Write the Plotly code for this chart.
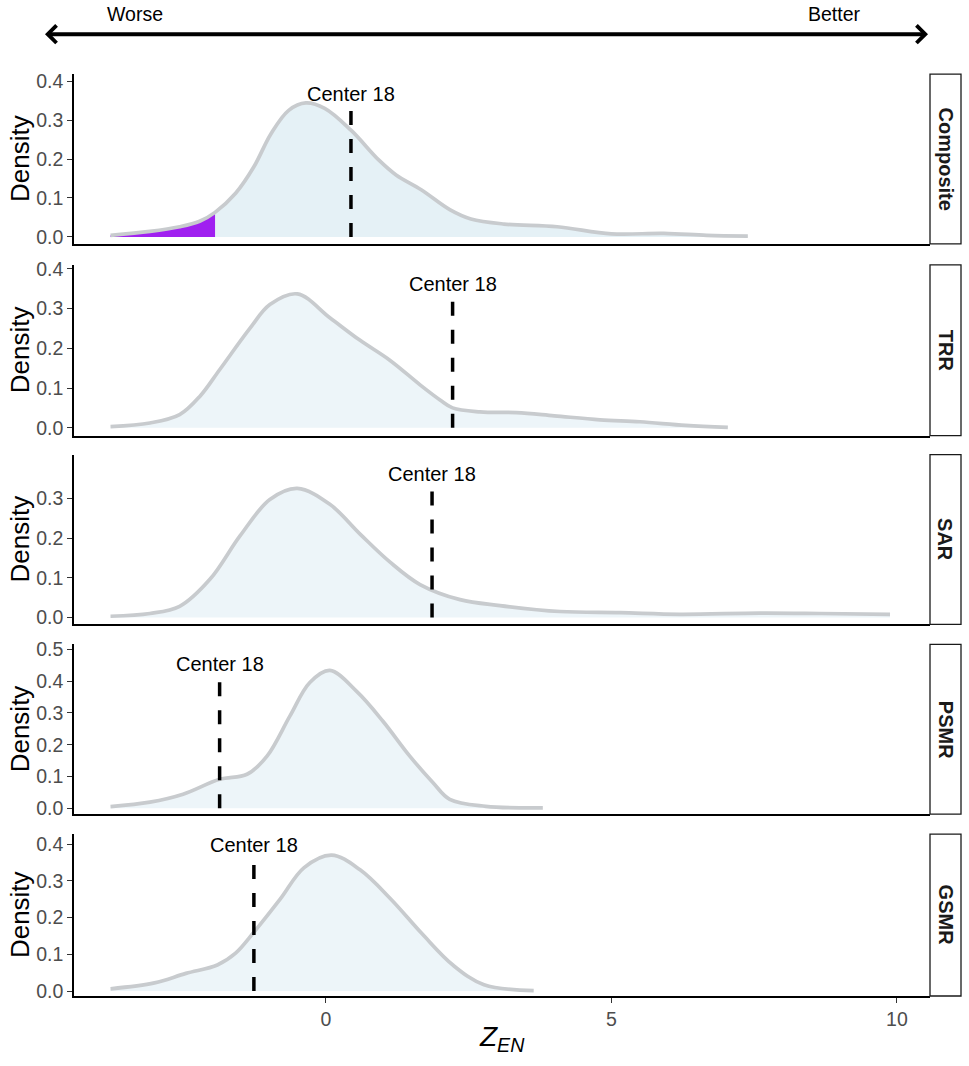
import plotly.graph_objects as go

W, H = 969, 1066

panels = ["Composite", "TRR", "SAR", "PSMR", "GSMR"]

composite_x = [-3.77, -3.08, -2.56, -2.21, -1.94, -1.58, -1.26, -0.96, -0.65, -0.35, -0.02,
               0.44, 0.93, 1.23, 1.67, 2.17, 2.54, 3.12, 4.05, 5.0, 5.92, 6.67, 7.39]
composite_d = [0.004, 0.014, 0.026, 0.040, 0.063, 0.112, 0.180, 0.265, 0.325, 0.344, 0.330,
               0.274, 0.197, 0.159, 0.121, 0.070, 0.046, 0.033, 0.026, 0.008, 0.009, 0.004, 0.002]

trr_x = [-3.77, -3.08, -2.56, -2.2, -1.86, -1.33, -0.98, -0.5, 0.07, 0.6, 1.12, 1.65, 2.0,
         2.22, 2.7, 3.34, 4.0, 4.8, 5.5, 6.3, 7.04]
trr_d = [0.003, 0.012, 0.033, 0.08, 0.146, 0.25, 0.31, 0.337, 0.277, 0.22, 0.17, 0.108, 0.07,
         0.05, 0.04, 0.038, 0.03, 0.02, 0.015, 0.006, 0.001]

sar_x = [-3.77, -3.08, -2.56, -2.03, -1.5, -0.98, -0.5, 0.07, 0.6, 1.12, 1.65, 2.35, 3.05,
         4.1, 5.15, 6.2, 7.6, 8.65, 9.88]
sar_d = [0.003, 0.01, 0.028, 0.096, 0.206, 0.297, 0.325, 0.285, 0.21, 0.14, 0.083, 0.045, 0.03,
         0.015, 0.012, 0.008, 0.011, 0.01, 0.008]

psmr_x = [-3.77, -3.08, -2.5, -1.86, -1.38, -1.03, -0.63, -0.28, 0.07, 0.54, 1.0, 1.47, 1.87,
          2.17, 2.8, 3.8]
psmr_d = [0.005, 0.019, 0.044, 0.091, 0.107, 0.164, 0.29, 0.396, 0.434, 0.368, 0.274, 0.164,
          0.082, 0.028, 0.006, 0.001]

gsmr_x = [-3.77, -3.0, -2.45, -1.9, -1.58, -1.26, -0.8, -0.38, 0.1, 0.6, 1.14, 1.69, 2.23,
          2.77, 3.64]
gsmr_d = [0.006, 0.022, 0.048, 0.071, 0.103, 0.16, 0.25, 0.336, 0.37, 0.33, 0.25, 0.155, 0.07,
          0.017, 0.001]

series_x = [composite_x, trr_x, sar_x, psmr_x, gsmr_x]
series_d = [composite_d, trr_d, sar_d, psmr_d, gsmr_d]

center_x = [0.44, 2.22, 1.86, -1.86, -1.26]
center_top = [0.33, 0.327, 0.327, 0.41, 0.36]
center_label = "Center 18"
threshold = -1.94  # purple tail region in Composite panel

y_ranges = [[-0.018, 0.418], [-0.02, 0.41], [-0.0176, 0.41], [-0.019, 0.516], [-0.0136, 0.427]]
y_ticks = [[0, 0.1, 0.2, 0.3, 0.4], [0, 0.1, 0.2, 0.3, 0.4], [0, 0.1, 0.2, 0.3],
           [0, 0.1, 0.2, 0.3, 0.4, 0.5], [0, 0.1, 0.2, 0.3, 0.4]]
x_ticks = [0, 5, 10]
x_range = [-4.41, 10.58]

# target layout positions in pixels
panel_px = [(74, 244), (265, 436), (455, 625), (645, 815), (835, 997)]
x_left_px, x_right_px = 74, 930
strip_x0, strip_x1 = 930, 961


def px_x(p):
    return p / W


def px_y(p):
    q = (p - 6.8) / 0.989
    return 1 - q / H


FONT = "Liberation Sans, Arial, Helvetica, sans-serif"
fill_colors = ["rgba(229,241,246,1)", "rgba(237,245,249,1)", "rgba(237,245,249,1)",
               "rgba(237,245,249,1)", "rgba(237,245,249,1)"]
line_color = "#c8cbce"

fig = go.Figure()
layout = dict(width=W, height=H, margin=dict(l=0, r=0, t=0, b=0, pad=0), autosize=False,
              plot_bgcolor="white", paper_bgcolor="white", showlegend=False,
              font=dict(family=FONT))
annotations = []
shapes = []

for i, name in enumerate(panels):
    n = i + 1
    xa = "x" if n == 1 else f"x{n}"
    ya = "y" if n == 1 else f"y{n}"
    xs, ds = series_x[i], series_d[i]
    fig.add_trace(go.Scatter(x=xs, y=ds, xaxis=xa, yaxis=ya, mode="lines",
                             line=dict(width=0, shape="spline", smoothing=1, color=line_color),
                             fill="tozeroy", fillcolor=fill_colors[i], hoverinfo="skip"))
    if i == 0:
        px_ = [x for x in xs if x <= threshold]
        pd_ = [d for x, d in zip(xs, ds) if x <= threshold]
        fig.add_trace(go.Scatter(x=px_, y=pd_, xaxis=xa, yaxis=ya, mode="lines",
                                 line=dict(width=0, shape="spline", smoothing=1, color="#a020f0"),
                                 fill="tozeroy", fillcolor="#a020f0", hoverinfo="skip"))
    fig.add_trace(go.Scatter(x=xs, y=ds, xaxis=xa, yaxis=ya, mode="lines",
                             line=dict(width=3.7, shape="spline", smoothing=1, color=line_color)))
    fig.add_trace(go.Scatter(x=[center_x[i], center_x[i]], y=[0, center_top[i]], xaxis=xa, yaxis=ya,
                             mode="lines", line=dict(color="black", width=3.5, dash="14px,14px")))
    annotations.append(dict(x=center_x[i], y=center_top[i], xref=xa, yref=ya, text=center_label,
                            showarrow=False, xanchor="center", yanchor="bottom", yshift=1,
                            font=dict(size=20, color="black", family=FONT)))

    top, bot = panel_px[i]
    dom_y = [px_y(bot), px_y(top)]
    layout["xaxis" if n == 1 else f"xaxis{n}"] = dict(
        domain=[px_x(x_left_px), px_x(x_right_px)], range=x_range, anchor=ya,
        showgrid=False, zeroline=False, showline=True, linecolor="black", linewidth=1.5,
        tickvals=x_ticks, ticks="outside" if n == 5 else "", ticklen=5, tickcolor="#333333",
        showticklabels=(n == 5), tickfont=dict(size=19.5, color="#4d4d4d", family=FONT),
        matches=None if n == 1 else "x")
    layout["yaxis" if n == 1 else f"yaxis{n}"] = dict(
        domain=dom_y, range=y_ranges[i], anchor=xa, showgrid=False, zeroline=False,
        showline=True, linecolor="black", linewidth=1.5, tickvals=y_ticks[i],
        tickformat=".1f", ticks="outside", ticklen=5, tickcolor="#333333",
        tickfont=dict(size=19.5, color="#4d4d4d", family=FONT))
    annotations.append(dict(x=px_x(20), y=(dom_y[0] + dom_y[1]) / 2, xref="paper", yref="paper",
                            text="Density", textangle=-90, showarrow=False,
                            xanchor="center", yanchor="middle",
                            font=dict(size=26, color="black", family=FONT)))
    shapes.append(dict(type="rect", xref="paper", yref="paper", x0=px_x(strip_x0), x1=px_x(strip_x1),
                       y0=dom_y[0], y1=dom_y[1], line=dict(color="#1a1a1a", width=1.3),
                       fillcolor="white"))
    annotations.append(dict(x=px_x((strip_x0 + strip_x1) / 2), y=(dom_y[0] + dom_y[1]) / 2,
                            xref="paper", yref="paper", text=f"<b>{name}</b>", textangle=90,
                            showarrow=False, xanchor="center", yanchor="middle",
                            font=dict(size=20, color="#1a1a1a", family=FONT)))

annotations.append(dict(x=px_x((x_left_px + x_right_px) / 2), y=px_y(1040), xref="paper", yref="paper",
                        text="<i>Z</i><sub><i>EN</i></sub>", showarrow=False,
                        xanchor="center", yanchor="middle",
                        font=dict(size=28, color="black", family=FONT)))
annotations.append(dict(x=px_x(928), y=px_y(34), xref="paper", yref="paper", ax=-(928 - 42), ay=0,
                        text=" ", showarrow=True, arrowside="end+start", arrowhead=4,
                        startarrowhead=4, arrowwidth=4, arrowsize=0.85, startarrowsize=0.85,
                        arrowcolor="black"))
annotations.append(dict(x=px_x(135), y=px_y(14), xref="paper", yref="paper", text="Worse",
                        showarrow=False, xanchor="center", yanchor="middle",
                        font=dict(size=19.5, color="black", family=FONT)))
annotations.append(dict(x=px_x(834), y=px_y(14), xref="paper", yref="paper", text="Better",
                        showarrow=False, xanchor="center", yanchor="middle",
                        font=dict(size=19.5, color="black", family=FONT)))

layout["annotations"] = annotations
layout["shapes"] = shapes
fig.update_layout(**layout)
fig.write_html("out.html", config={"displayModeBar": False},
               post_script="document.body.style.margin='0';document.body.style.overflow='hidden';")
